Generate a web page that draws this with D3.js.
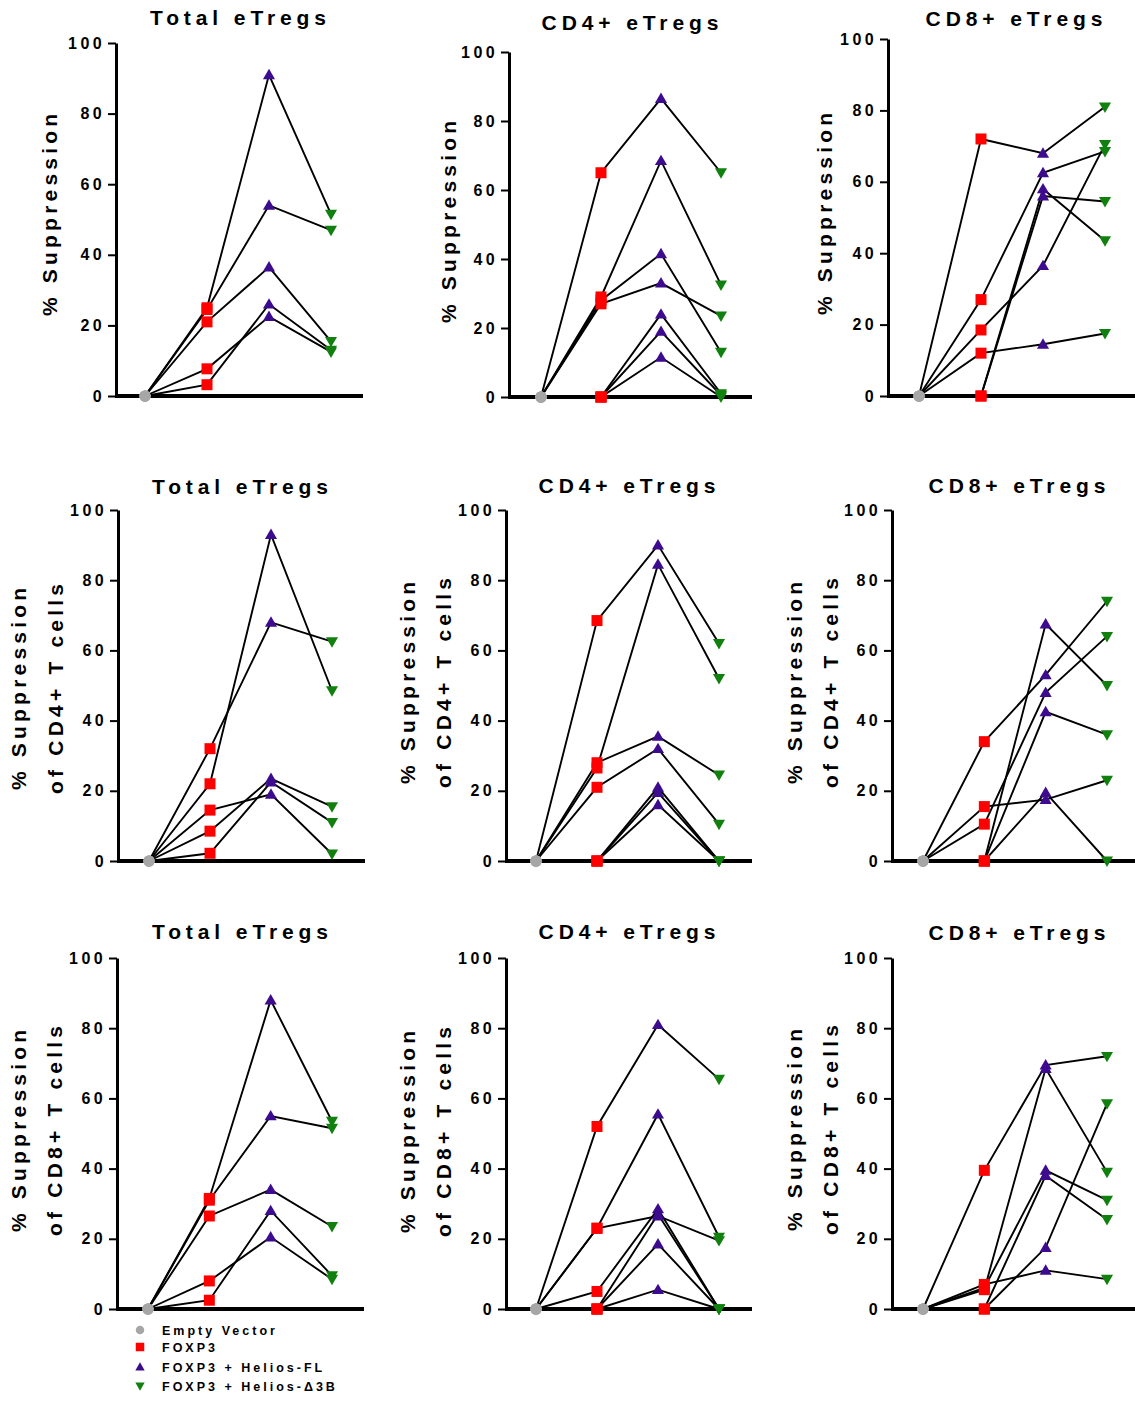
<!DOCTYPE html>
<html>
<head>
<meta charset="utf-8">
<script src="https://cdn.jsdelivr.net/npm/d3@7"></script>
<style>
  body { margin: 0; background: #fff; }
  svg { display: block; font-family: "Liberation Sans", Arial, sans-serif; font-weight: bold; }
</style>
</head>
<body>
<svg id="chart" width="1135" height="1401"></svg>
<script>
// categories (x positions) and legend labels
const groups = ['Empty Vector', 'FOXP3', 'FOXP3 + Helios-FL', 'FOXP3 + Helios-\u03943B'];
const groupColors = ['#a6a6a6', '#ff0000', '#3d0b8e', '#11800f'];
const yTicks = [0, 20, 40, 60, 80, 100];

const titles = ['Total eTregs', 'CD4+ eTregs', 'CD8+ eTregs'];
const rowLabels = [
    ['% Suppression'],
    ['% Suppression', 'of CD4+ T cells'],
    ['% Suppression', 'of CD8+ T cells']
];

// one row per donor: [Empty Vector, FOXP3, Helios-FL, Helios-D3B]
// row 1: % suppression
const supTotal = [[0, 25, 91, 51.5], [0, 24.5, 54, 47], [0, 21, 36.5, 15.5], [0, 7.7, 22.5, 12.5], [0, 3.2, 26, 13]];
const supCD4 = [[0, 65, 86.5, 65], [0, 29, 68.5, 32.5], [0, 28, 41.5, 13], [0, 27, 33, 23.5], [0, 0, 24, 1], [0, 0, 19, 0.5], [0, 0, 11.5, 0]];
const supCD8 = [[0, 72, 68, 81], [0, 27, 62.5, 68.5], [0, 18.5, 36.5, 70.5], [0, 12, 14.5, 17.5], [0, 0, 58, 43.5], [0, 0, 56, 54.5]];
// row 2: % suppression of CD4+ T cells
const cd4Total = [[0, 32, 68, 62.5], [0, 22, 93, 48.5], [0, 14.5, 19, 2], [0, 8.5, 23.5, 15.5], [0, 2.2, 22.5, 11]];
const cd4CD4 = [[0, 68.5, 90, 62], [0, 28, 35.5, 24.5], [0, 26.5, 84.5, 52], [0, 21, 32, 10.5], [0, 0, 21, 0], [0, 0, 19.5, 0], [0, 0, 16, 0]];
const cd4CD8 = [[0, 34, 53, 74], [0, 15.5, 17.5, 23], [0, 10.5, 48, 64], [0, 0, 67.5, 50], [0, 0, 42.5, 36], [0, 0, 19.5, 0]];
// row 3: % suppression of CD8+ T cells
const cd8Total = [[0, 31.5, 88, 53.5], [0, 31, 55, 51.5], [0, 26.5, 34, 23.5], [0, 8, 20.5, 8.5], [0, 2.5, 28, 9.5]];
const cd8CD4 = [[0, 52, 81, 65.5], [0, 23, 55.5, 20.5], [0, 23, 26.5, 19.5], [0, 5, 28.5, 0], [0, 0, 27, 0], [0, 0, 18.5, 0], [0, 0, 5.5, 0]];
const cd8CD8 = [[0, 39.5, 69.5, 72], [0, 5.5, 68.5, 39], [0, 7, 11, 8.5], [0, 6, 39.5, 31], [0, 0, 38, 25.5], [0, 0, 17.5, 58.5]];

const panelData = [supTotal, supCD4, supCD8, cd4Total, cd4CD4, cd4CD8, cd8Total, cd8CD4, cd8CD8];

// panel geometry (pixel layout)
const layout = [
    { ax: 116, top: 43, bot: 396, c0: 145, c3: 331, right: 363, tx: 238, ty: 25, lx: [57], ly: 215 },
    { ax: 509, top: 52, bot: 397, c0: 541, c3: 721, right: 752, tx: 630, ty: 30, lx: [456], ly: 222 },
    { ax: 888, top: 39, bot: 396, c0: 919, c3: 1105, right: 1135, tx: 1014, ty: 26, lx: [832], ly: 214 },
    { ax: 118, top: 510, bot: 861, c0: 149, c3: 332, right: 365, tx: 240, ty: 494, lx: [26, 63], ly: 689 },
    { ax: 506, top: 510, bot: 861, c0: 536, c3: 719, right: 752, tx: 627, ty: 493, lx: [415, 451], ly: 683 },
    { ax: 892, top: 510, bot: 861, c0: 923, c3: 1107, right: 1135, tx: 1017, ty: 493, lx: [802, 838], ly: 683 },
    { ax: 117, top: 958, bot: 1309, c0: 148, c3: 332, right: 364, tx: 240, ty: 939, lx: [26, 62], ly: 1131 },
    { ax: 506, top: 958, bot: 1309, c0: 536, c3: 719, right: 752, tx: 627, ty: 939, lx: [415, 451], ly: 1132 },
    { ax: 892, top: 958, bot: 1309, c0: 923, c3: 1107, right: 1135, tx: 1017, ty: 940, lx: [802, 838], ly: 1130 }
];

const svg = d3.select('#chart');

const titleLs = 4.9, labelLs = 4.2, tickLs = 3.4;

// marker shapes
function marker(sel, gi, size) {
    const h = size / 2;
    if (gi === 0) {
        sel.append('circle').attr('r', h).attr('fill', groupColors[0]);
    } else if (gi === 1) {
        sel.append('rect').attr('x', -h).attr('y', -h).attr('width', size).attr('height', size).attr('fill', groupColors[1]);
    } else if (gi === 2) {
        sel.append('path').attr('d', `M0,${-h * 1.1}L${h * 1.1},${h * 0.8}L${-h * 1.1},${h * 0.8}Z`).attr('fill', groupColors[2]);
    } else {
        sel.append('path').attr('d', `M0,${h * 1.1}L${h * 1.1},${-h * 0.8}L${-h * 1.1},${-h * 0.8}Z`).attr('fill', groupColors[3]);
    }
}

panelData.forEach((donors, p) => {
    const L = layout[p];
    const row = Math.floor(p / 3), col = p % 3;
    const g = svg.append('g');

    const x = d3.scalePoint().domain(groups).range([L.c0, L.c3]);
    const y = d3.scaleLinear().domain([0, 100]).range([L.bot, L.top]);

    // y axis
    const yAxis = d3.axisLeft(y).tickValues(yTicks).tickSize(8).tickSizeOuter(0).tickPadding(3 + tickLs);
    const ya = g.append('g').attr('transform', `translate(${L.ax},0)`).call(yAxis);
    ya.select('.domain').attr('stroke', '#000').attr('stroke-width', 3);
    ya.selectAll('.tick line').attr('stroke', '#000').attr('stroke-width', 2);
    ya.selectAll('.tick text')
        .attr('fill', '#000')
        .style('font-size', '16px')
        .style('font-weight', 'bold')
        .style('font-family', '"Liberation Sans", Arial, sans-serif')
        .style('letter-spacing', tickLs + 'px')
        .attr('dx', tickLs);

    // lines
    const line = d3.line().x((d, i) => x(groups[i])).y(d => y(d));
    g.selectAll('path.donor')
        .data(donors)
        .enter()
        .append('path')
        .attr('class', 'donor')
        .attr('d', line)
        .attr('fill', 'none')
        .attr('stroke', '#000')
        .attr('stroke-width', 1.9);

    // x axis baseline
    g.append('line')
        .attr('x1', L.ax - 1).attr('x2', L.right)
        .attr('y1', y(0)).attr('y2', y(0))
        .attr('stroke', '#000').attr('stroke-width', 4);

    // markers
    donors.forEach(d => {
        d.forEach((v, gi) => {
            const m = g.append('g').attr('transform', `translate(${x(groups[gi])},${y(v)})`);
            marker(m, gi, 11);
        });
    });

    // title
    g.append('text')
        .attr('x', L.tx + titleLs / 2)
        .attr('y', L.ty)
        .attr('text-anchor', 'middle')
        .style('font-size', '21px')
        .style('letter-spacing', titleLs + 'px')
        .text(titles[col]);

    // y label
    rowLabels[row].forEach((t, i) => {
        g.append('text')
            .attr('transform', `translate(${L.lx[i]},${L.ly}) rotate(-90)`)
            .attr('text-anchor', 'middle')
            .attr('dx', labelLs / 2)
            .style('font-size', '21px')
            .style('letter-spacing', labelLs + 'px')
            .text(t);
    });
});

// legend
const legendY = [1330, 1347, 1367, 1386];
const legend = svg.append('g');
groups.forEach((name, i) => {
    const m = legend.append('g').attr('transform', `translate(140,${legendY[i]})`);
    marker(m, i, 8.5);
    legend.append('text')
        .attr('x', 162)
        .attr('y', legendY[i] + 4.5)
        .style('font-size', '12.5px')
        .style('letter-spacing', '3px')
        .text(name);
});
</script>
</body>
</html>
